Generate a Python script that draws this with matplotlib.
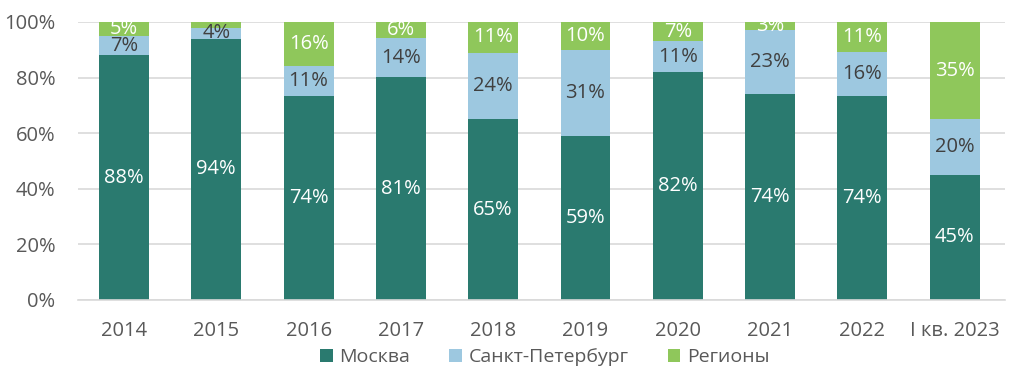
import matplotlib.pyplot as plt
import numpy as np

plt.rcParams['font.family'] = ['Open Sans', 'DejaVu Sans']

# данные
years = ['2014', '2015', '2016', '2017', '2018', '2019', '2020', '2021', '2022', 'I кв. 2023']
moskva = [88, 94, 74, 81, 65, 59, 82, 74, 74, 45]
spb = [7, 4, 11, 14, 24, 31, 11, 23, 16, 20]
regiony = [5, 2, 16, 6, 11, 10, 7, 3, 11, 35]

names = ['Москва', 'Санкт-Петербург', 'Регионы']
colors = ['#2a7a6f', '#9dc8e0', '#8fc75b']
text_colors = ['white', '#404040', 'white']

data = np.array([moskva, spb, regiony], dtype=float)
shares = data / data.sum(axis=0) * 100

fig = plt.figure(figsize=(10.24, 3.81), dpi=100)
ax = fig.add_axes([0.076, 0.2126, 0.905, 0.7297])

x = np.arange(len(years))
bottom = np.zeros(len(years))
for i in range(3):
    ax.bar(x, shares[i], 0.54, bottom=bottom, color=colors[i], label=names[i], zorder=2)
    for j in range(len(years)):
        if data[i][j] >= 3:
            ax.text(x[j], bottom[j] + shares[i][j] / 2, f'{int(data[i][j])}%',
                    ha='center', va='center', fontsize=14.5, color=text_colors[i], zorder=3)
    bottom += shares[i]

ax.set_ylim(0, 100)
ax.set_xlim(-0.5, 9.54)
ax.set_yticks(range(0, 101, 20))
ax.set_yticklabels([f'{v}%' for v in range(0, 101, 20)])
ax.set_xticks(x)
ax.set_xticklabels(years)
ax.tick_params(axis='both', length=0, labelsize=14.5, labelcolor='#595959')
ax.tick_params(axis='y', pad=16)
ax.tick_params(axis='x', pad=15)
ax.grid(axis='y', color='#d9d9d9', linewidth=1.2, zorder=0)
ax.set_axisbelow(True)
for s in ['top', 'right', 'left']:
    ax.spines[s].set_visible(False)
ax.spines['bottom'].set_color('#d9d9d9')
ax.spines['bottom'].set_linewidth(1.2)

leg = fig.legend(loc='center', bbox_to_anchor=(0.532, 0.063), ncol=3, frameon=False,
                 fontsize=14, handlelength=0.65, handleheight=0.65, handletextpad=0.35,
                 columnspacing=2.0)
for t in leg.get_texts():
    t.set_color('#595959')

fig.savefig('out.png', dpi=100)
